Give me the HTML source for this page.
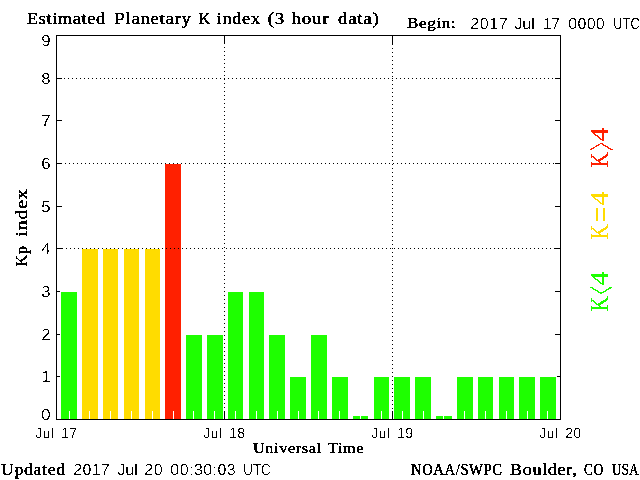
<!DOCTYPE html>
<html lang="en">
<head>
<meta charset="utf-8">
<title>Estimated Planetary K index (3 hour data)</title>
<style>
html,body{margin:0;padding:0;background:#fff;}
body{width:640px;height:480px;overflow:hidden;}
svg{display:block;position:absolute;left:0;top:0;}
.ser{font-family:"Liberation Serif","DejaVu Serif",serif;font-weight:normal;fill:#000;stroke:#000;stroke-width:0.38px;letter-spacing:0.6px;}
.san{font-family:"Liberation Sans","DejaVu Sans",sans-serif;fill:#000;text-rendering:geometricPrecision;}
.f1{filter:url(#crisp);}
.f2{filter:url(#crisp2);}
.leg{font-family:"Liberation Serif","DejaVu Serif",serif;font-size:24.4px;}
.ln{stroke:#000;stroke-width:1;fill:none;shape-rendering:crispEdges;}
.dot{stroke:#000;stroke-width:1;fill:none;stroke-dasharray:1 3;shape-rendering:crispEdges;}
rect{shape-rendering:crispEdges;}
</style>
</head>
<body>
<svg width="640" height="480" viewBox="0 0 640 480">
<defs>
<filter id="crisp" x="0" y="0" width="640" height="480" filterUnits="userSpaceOnUse" color-interpolation-filters="sRGB"><feComponentTransfer><feFuncA type="discrete" tableValues="0 0 0 0 0 0 0 0 0 0 1 1 1 1 1 1 1 1 1 1"/></feComponentTransfer></filter>
<filter id="crisp2" x="0" y="0" width="640" height="480" filterUnits="userSpaceOnUse" color-interpolation-filters="sRGB"><feComponentTransfer><feFuncA type="discrete" tableValues="0 0 0 0 0 0 0 0 0 0 0 0 1 1 1 1 1 1 1 1"/></feComponentTransfer></filter>
</defs>
<rect x="0" y="0" width="640" height="480" fill="#ffffff"/>

<g id="yticks">
<line class="ln" x1="56" y1="376.5" x2="62" y2="376.5"/>
<line class="ln" x1="555" y1="376.5" x2="560" y2="376.5"/>
<line class="ln" x1="56" y1="334.5" x2="62" y2="334.5"/>
<line class="ln" x1="555" y1="334.5" x2="560" y2="334.5"/>
<line class="ln" x1="56" y1="291.5" x2="62" y2="291.5"/>
<line class="ln" x1="555" y1="291.5" x2="560" y2="291.5"/>
<line class="ln" x1="56" y1="248.5" x2="62" y2="248.5"/>
<line class="ln" x1="555" y1="248.5" x2="560" y2="248.5"/>
<line class="ln" x1="56" y1="206.5" x2="62" y2="206.5"/>
<line class="ln" x1="555" y1="206.5" x2="560" y2="206.5"/>
<line class="ln" x1="56" y1="163.5" x2="62" y2="163.5"/>
<line class="ln" x1="555" y1="163.5" x2="560" y2="163.5"/>
<line class="ln" x1="56" y1="120.5" x2="62" y2="120.5"/>
<line class="ln" x1="555" y1="120.5" x2="560" y2="120.5"/>
<line class="ln" x1="56" y1="78.5" x2="62" y2="78.5"/>
<line class="ln" x1="555" y1="78.5" x2="560" y2="78.5"/>
</g>
<g id="bars">
<rect x="60" y="291" width="18" height="128" fill="#fff"/><rect x="61" y="292" width="16" height="127" fill="#1eff00"/>
<rect x="81" y="248" width="18" height="171" fill="#fff"/><rect x="82" y="249" width="16" height="170" fill="#ffdc00"/>
<rect x="102" y="248" width="17" height="171" fill="#fff"/><rect x="103" y="249" width="15" height="170" fill="#ffdc00"/>
<rect x="123" y="248" width="17" height="171" fill="#fff"/><rect x="124" y="249" width="15" height="170" fill="#ffdc00"/>
<rect x="144" y="248" width="17" height="171" fill="#fff"/><rect x="145" y="249" width="15" height="170" fill="#ffdc00"/>
<rect x="164" y="163" width="18" height="256" fill="#fff"/><rect x="165" y="164" width="16" height="255" fill="#ff2000"/>
<rect x="185" y="334" width="18" height="85" fill="#fff"/><rect x="186" y="335" width="16" height="84" fill="#1eff00"/>
<rect x="206" y="334" width="18" height="85" fill="#fff"/><rect x="207" y="335" width="16" height="84" fill="#1eff00"/>
<rect x="227" y="291" width="17" height="128" fill="#fff"/><rect x="228" y="292" width="15" height="127" fill="#1eff00"/>
<rect x="248" y="291" width="17" height="128" fill="#fff"/><rect x="249" y="292" width="15" height="127" fill="#1eff00"/>
<rect x="268" y="334" width="18" height="85" fill="#fff"/><rect x="269" y="335" width="16" height="84" fill="#1eff00"/>
<rect x="289" y="376" width="18" height="43" fill="#fff"/><rect x="290" y="377" width="16" height="42" fill="#1eff00"/>
<rect x="310" y="334" width="18" height="85" fill="#fff"/><rect x="311" y="335" width="16" height="84" fill="#1eff00"/>
<rect x="331" y="376" width="18" height="43" fill="#fff"/><rect x="332" y="377" width="16" height="42" fill="#1eff00"/>
<rect x="352" y="415" width="17" height="4" fill="#fff"/><rect x="353" y="416" width="15" height="3" fill="#1eff00"/>
<rect x="373" y="376" width="17" height="43" fill="#fff"/><rect x="374" y="377" width="15" height="42" fill="#1eff00"/>
<rect x="393" y="376" width="18" height="43" fill="#fff"/><rect x="394" y="377" width="16" height="42" fill="#1eff00"/>
<rect x="414" y="376" width="18" height="43" fill="#fff"/><rect x="415" y="377" width="16" height="42" fill="#1eff00"/>
<rect x="435" y="415" width="18" height="4" fill="#fff"/><rect x="436" y="416" width="16" height="3" fill="#1eff00"/>
<rect x="456" y="376" width="18" height="43" fill="#fff"/><rect x="457" y="377" width="16" height="42" fill="#1eff00"/>
<rect x="477" y="376" width="17" height="43" fill="#fff"/><rect x="478" y="377" width="15" height="42" fill="#1eff00"/>
<rect x="498" y="376" width="17" height="43" fill="#fff"/><rect x="499" y="377" width="15" height="42" fill="#1eff00"/>
<rect x="518" y="376" width="18" height="43" fill="#fff"/><rect x="519" y="377" width="16" height="42" fill="#1eff00"/>
<rect x="539" y="376" width="18" height="43" fill="#fff"/><rect x="540" y="377" width="16" height="42" fill="#1eff00"/>
</g>
<g id="minor">
<rect x="69" y="411" width="1" height="8" fill="#fff"/>
<rect x="89" y="411" width="1" height="8" fill="#fff"/>
<rect x="110" y="411" width="1" height="8" fill="#fff"/>
<rect x="131" y="411" width="1" height="8" fill="#fff"/>
<rect x="152" y="411" width="1" height="8" fill="#fff"/>
<rect x="173" y="411" width="1" height="8" fill="#fff"/>
<rect x="193" y="411" width="1" height="8" fill="#fff"/>
<rect x="214" y="411" width="1" height="8" fill="#fff"/>
<rect x="235" y="411" width="1" height="8" fill="#fff"/>
<rect x="256" y="411" width="1" height="8" fill="#fff"/>
<rect x="277" y="411" width="1" height="8" fill="#fff"/>
<rect x="298" y="411" width="1" height="8" fill="#fff"/>
<rect x="318" y="411" width="1" height="8" fill="#fff"/>
<rect x="339" y="411" width="1" height="8" fill="#fff"/>
<rect x="360" y="411" width="1" height="8" fill="#fff"/>
<rect x="381" y="411" width="1" height="8" fill="#fff"/>
<rect x="402" y="411" width="1" height="8" fill="#fff"/>
<rect x="423" y="411" width="1" height="8" fill="#fff"/>
<rect x="443" y="411" width="1" height="8" fill="#fff"/>
<rect x="464" y="411" width="1" height="8" fill="#fff"/>
<rect x="485" y="411" width="1" height="8" fill="#fff"/>
<rect x="506" y="411" width="1" height="8" fill="#fff"/>
<rect x="527" y="411" width="1" height="8" fill="#fff"/>
<rect x="547" y="411" width="1" height="8" fill="#fff"/>
</g>
<g id="grid">
<line class="dot" x1="56" y1="78.5" x2="560" y2="78.5"/>
<line class="dot" x1="57" y1="163.5" x2="560" y2="163.5"/>
<line class="dot" x1="58" y1="248.5" x2="560" y2="248.5"/>
<line class="dot" x1="224.5" y1="35" x2="224.5" y2="419"/>
<line class="dot" x1="392.5" y1="36" x2="392.5" y2="419"/>
</g>
<g id="axes">
<rect class="ln" x="56.5" y="35.5" width="504" height="384"/>
<line class="ln" x1="56" y1="248.5" x2="62" y2="248.5"/>
<line class="ln" x1="555" y1="248.5" x2="560" y2="248.5"/>
<line class="ln" x1="56" y1="163.5" x2="62" y2="163.5"/>
<line class="ln" x1="555" y1="163.5" x2="560" y2="163.5"/>
<line class="ln" x1="56" y1="78.5" x2="62" y2="78.5"/>
<line class="ln" x1="555" y1="78.5" x2="560" y2="78.5"/>
<line class="ln" x1="224.5" y1="35" x2="224.5" y2="44"/>
<line class="ln" x1="224.5" y1="411" x2="224.5" y2="419"/>
<line class="ln" x1="392.5" y1="35" x2="392.5" y2="44"/>
<line class="ln" x1="392.5" y1="411" x2="392.5" y2="419"/>
</g>
<g id="labels-serif" class="f1">
<text class="ser" font-size="16.5" y="24"><tspan x="27.00" textLength="78.70" lengthAdjust="spacingAndGlyphs">Estimated</tspan> <tspan x="114.30" textLength="77.40" lengthAdjust="spacingAndGlyphs">Planetary</tspan> <tspan x="199.00" textLength="11.70" lengthAdjust="spacingAndGlyphs">K</tspan> <tspan x="216.80" textLength="43.90" lengthAdjust="spacingAndGlyphs">index</tspan> <tspan x="267.80" textLength="17.10" lengthAdjust="spacingAndGlyphs">(3</tspan> <tspan x="291.50" textLength="37.70" lengthAdjust="spacingAndGlyphs">hour</tspan> <tspan x="338.00" textLength="41.40" lengthAdjust="spacingAndGlyphs">data)</tspan></text>
<text class="ser" font-size="15" y="28"><tspan x="407.00" textLength="49.40" lengthAdjust="spacingAndGlyphs">Begin:</tspan></text>
<text class="ser" font-size="15" y="453"><tspan x="253.00" textLength="68.70" lengthAdjust="spacingAndGlyphs">Universal</tspan> <tspan x="328.00" textLength="36.20" lengthAdjust="spacingAndGlyphs">Time</tspan></text>
<text class="ser" font-size="16.5" y="475"><tspan x="1.00" textLength="64.70" lengthAdjust="spacingAndGlyphs">Updated</tspan></text>
<text class="ser" font-size="16.5" y="475"><tspan x="411.00" textLength="91.70" lengthAdjust="spacingAndGlyphs">NOAA/SWPC</tspan> <tspan x="510.00" textLength="67.40" lengthAdjust="spacingAndGlyphs">Boulder,</tspan> <tspan x="584.00" textLength="19.70" lengthAdjust="spacingAndGlyphs">CO</tspan> <tspan x="612.00" textLength="27.00" lengthAdjust="spacingAndGlyphs">USA</tspan></text>
<text class="ser" font-size="16.5" transform="translate(27,266) rotate(-90)"><tspan x="-0.5" textLength="21" lengthAdjust="spacingAndGlyphs">Kp</tspan> <tspan x="29.5" textLength="48" lengthAdjust="spacingAndGlyphs">index</tspan></text>
<text class="leg" fill="#ff2000" stroke="#ff2000" stroke-width="0.12" transform="translate(608,167) rotate(-90)"><tspan x="-0.64" textLength="15.4" lengthAdjust="spacingAndGlyphs">K</tspan><tspan x="16.25" dy="9.6" font-size="49.8" textLength="8.5" lengthAdjust="spacingAndGlyphs">&gt;</tspan><tspan x="25.4" dy="-9.6" textLength="14" lengthAdjust="spacingAndGlyphs">4</tspan></text>
<text class="leg" fill="#ffdc00" stroke="#ffdc00" stroke-width="0.12" transform="translate(608,239) rotate(-90)"><tspan x="-0.64" textLength="15.4" lengthAdjust="spacingAndGlyphs">K</tspan><tspan x="16.6" dy="3.8" font-size="34" textLength="15.7" lengthAdjust="spacingAndGlyphs">=</tspan><tspan x="33.4" dy="-3.8" textLength="14" lengthAdjust="spacingAndGlyphs">4</tspan></text>
<text class="leg" fill="#1eff00" stroke="#1eff00" stroke-width="0.12" transform="translate(608,311) rotate(-90)"><tspan x="-0.64" textLength="15.4" lengthAdjust="spacingAndGlyphs">K</tspan><tspan x="16.5" dy="9.6" font-size="49.8" textLength="8.5" lengthAdjust="spacingAndGlyphs">&lt;</tspan><tspan x="25.4" dy="-9.6" textLength="14" lengthAdjust="spacingAndGlyphs">4</tspan></text>
</g>
<g id="labels-sans" class="f2">
<text class="san" font-size="16" y="29"><tspan x="470.30" textLength="37.40" lengthAdjust="spacing">2017</tspan> <tspan x="514.30" textLength="20.40" lengthAdjust="spacingAndGlyphs">Jul</tspan> <tspan x="543.30" textLength="16.40" lengthAdjust="spacingAndGlyphs">17</tspan> <tspan x="568.30" textLength="36.40" lengthAdjust="spacing">0000</tspan> <tspan x="613.30" textLength="26.40" lengthAdjust="spacingAndGlyphs">UTC</tspan></text>
<text class="san" font-size="16" y="419.5" x="41.3" textLength="9.4" lengthAdjust="spacingAndGlyphs">0</text>
<text class="san" font-size="16" y="382" x="41.3" textLength="9.4" lengthAdjust="spacingAndGlyphs">1</text>
<text class="san" font-size="16" y="340" x="41.3" textLength="9.4" lengthAdjust="spacingAndGlyphs">2</text>
<text class="san" font-size="16" y="297" x="41.3" textLength="9.4" lengthAdjust="spacingAndGlyphs">3</text>
<text class="san" font-size="16" y="254" x="41.3" textLength="9.4" lengthAdjust="spacingAndGlyphs">4</text>
<text class="san" font-size="16" y="212" x="41.3" textLength="9.4" lengthAdjust="spacingAndGlyphs">5</text>
<text class="san" font-size="16" y="169" x="41.3" textLength="9.4" lengthAdjust="spacingAndGlyphs">6</text>
<text class="san" font-size="16" y="126" x="41.3" textLength="9.4" lengthAdjust="spacingAndGlyphs">7</text>
<text class="san" font-size="16" y="84" x="41.3" textLength="9.4" lengthAdjust="spacingAndGlyphs">8</text>
<text class="san" font-size="16" y="46" x="41.3" textLength="9.4" lengthAdjust="spacingAndGlyphs">9</text>
<text class="san" font-size="14.6" y="438"><tspan x="35.30" textLength="18.60" lengthAdjust="spacingAndGlyphs">Jul</tspan> <tspan x="61.30" textLength="15.90" lengthAdjust="spacingAndGlyphs">17</tspan></text>
<text class="san" font-size="14.6" y="438"><tspan x="203.30" textLength="18.60" lengthAdjust="spacingAndGlyphs">Jul</tspan> <tspan x="229.30" textLength="15.90" lengthAdjust="spacingAndGlyphs">18</tspan></text>
<text class="san" font-size="14.6" y="438"><tspan x="371.30" textLength="18.60" lengthAdjust="spacingAndGlyphs">Jul</tspan> <tspan x="397.30" textLength="15.90" lengthAdjust="spacingAndGlyphs">19</tspan></text>
<text class="san" font-size="14.6" y="438"><tspan x="539.30" textLength="18.60" lengthAdjust="spacingAndGlyphs">Jul</tspan> <tspan x="565.30" textLength="15.90" lengthAdjust="spacingAndGlyphs">20</tspan></text>
<text class="san" font-size="16" y="475"><tspan x="73.30" textLength="36.40" lengthAdjust="spacing">2017</tspan> <tspan x="117.30" textLength="20.40" lengthAdjust="spacingAndGlyphs">Jul</tspan> <tspan x="144.30" textLength="18.40" lengthAdjust="spacing">20</tspan> <tspan x="170.30" textLength="65.40" lengthAdjust="spacing">00:30:03</tspan> <tspan x="243.30" textLength="27.40" lengthAdjust="spacingAndGlyphs">UTC</tspan></text>
</g>
</svg>
</body>
</html>
